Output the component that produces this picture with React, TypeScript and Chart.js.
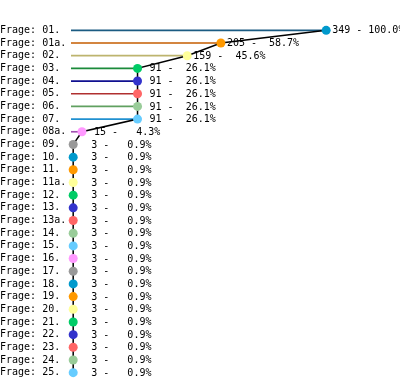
import React, { useEffect, useRef } from "react";
import { Chart, registerables } from "chart.js";

Chart.register(...registerables);

const categories = [
  "Frage: 01.", "Frage: 01a.", "Frage: 02.", "Frage: 03.", "Frage: 04.", "Frage: 05.", "Frage: 06.",
  "Frage: 07.", "Frage: 08a.", "Frage: 09.", "Frage: 10.", "Frage: 11.", "Frage: 11a.", "Frage: 12.",
  "Frage: 13.", "Frage: 13a.", "Frage: 14.", "Frage: 15.", "Frage: 16.", "Frage: 17.", "Frage: 18.",
  "Frage: 19.", "Frage: 20.", "Frage: 21.", "Frage: 22.", "Frage: 23.", "Frage: 24.", "Frage: 25.",
];

const counts = [
  349, 205, 159, 91, 91, 91, 91, 91, 15, 3, 3, 3, 3, 3, 3, 3, 3, 3, 3, 3, 3, 3, 3, 3, 3, 3, 3, 3,
];

const percents = [
  100.0, 58.7, 45.6, 26.1, 26.1, 26.1, 26.1, 26.1, 4.3, 0.9, 0.9, 0.9, 0.9, 0.9, 0.9, 0.9, 0.9, 0.9,
  0.9, 0.9, 0.9, 0.9, 0.9, 0.9, 0.9, 0.9, 0.9, 0.9,
];

const pointPalette = [
  "#0099cc", "#ff9900", "#ffff99", "#00cc66", "#3333cc", "#ff6666", "#99cc99", "#66ccff", "#ff99ff", "#999999",
];
const barPalette = [
  "#1b5b82", "#c45c00", "#bdb46e", "#1a8a3a", "#101090", "#b03030", "#60a060", "#2090d0", "#a050b0", "#808080",
];

const FONT = "DejaVu Sans Mono";

const labelPlugin = {
  id: "valueLabels",
  afterDatasetsDraw(chart: any) {
    const meta = chart.getDatasetMeta(1);
    const ctx = chart.ctx;
    ctx.save();
    ctx.font = `10px "${FONT}"`;
    ctx.fillStyle = "#000";
    ctx.textAlign = "left";
    ctx.textBaseline = "middle";
    meta.data.forEach((pt: any, i: number) => {
      const txt =
        String(counts[i]).padStart(3, " ") + " - " + percents[i].toFixed(1).padStart(5, " ") + "%";
      ctx.fillText(txt, pt.x + 6, pt.y + 0.5);
    });
    ctx.restore();
  },
};

export default function App() {
  const ref = useRef<HTMLCanvasElement | null>(null);
  useEffect(() => {
    document.body.style.margin = "0";
    const chart = new Chart(ref.current as HTMLCanvasElement, {
      type: "bar",
      data: {
        labels: categories,
        datasets: [
          {
            type: "bar",
            data: counts,
            backgroundColor: counts.map((_, i) => barPalette[i % barPalette.length]),
            barThickness: 1,
            order: 2,
          } as any,
          {
            type: "line",
            data: counts,
            borderColor: "#000",
            borderWidth: 1.5,
            tension: 0,
            fill: false,
            clip: false,
            pointRadius: 4.5,
            pointBorderWidth: 0,
            pointBackgroundColor: counts.map((_, i) => pointPalette[i % pointPalette.length]),
            order: 1,
          } as any,
        ],
      },
      options: {
        indexAxis: "y",
        animation: false,
        responsive: true,
        maintainAspectRatio: false,
        layout: { autoPadding: false, padding: { top: 24, bottom: 4, left: 0, right: 0 } },
        plugins: { legend: { display: false }, tooltip: { enabled: false }, title: { display: false } },
        scales: {
          x: { display: false, min: 0, max: 450 },
          y: {
            type: "category",
            offset: true,
            grid: { display: false },
            border: { display: false },
            ticks: {
              crossAlign: "far",
              padding: 0,
              color: "#000",
              font: { family: FONT, size: 10 },
              autoSkip: false,
            },
            afterFit(scale: any) {
              scale.width = 71;
            },
          },
        },
      } as any,
      plugins: [labelPlugin],
    });
    return () => chart.destroy();
  }, []);
  return (
    <div style={{ width: 400, height: 385, position: "relative" }}>
      <canvas ref={ref} />
    </div>
  );
}
